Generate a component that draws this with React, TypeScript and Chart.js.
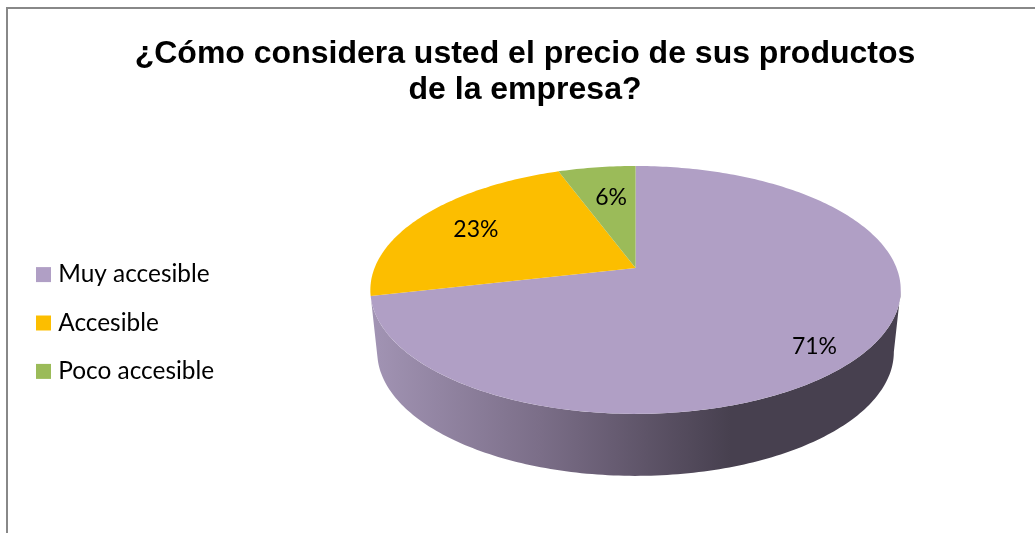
import React, { useEffect, useRef } from "react";
import { Chart, registerables } from "chart.js";

Chart.register(...registerables);

const titleLines = ["¿Cómo considera usted el precio de sus productos", "de la empresa?"];
const categories = ["Muy accesible", "Accesible", "Poco accesible"];
const values = [71.4, 23, 5.6];
const colors = ["#B09FC5", "#FCBE00", "#9BBB59"];

const PERSPECTIVE = 0.177;
const SQUASH = 0.46;
const APEX_SHIFT = -55;
const CENTER_SHIFT = 7;
const LOWER_SHIFT = 62;
const LOWER_SCALE = 0.974;
const FRONT_START = 0.178;
const FRONT_END = 2.93;
const LABEL_RADIUS = 0.7;
const labelNudges = [
  [24, 22],
  [-8, -1],
  [4, 3],
];

type Pt = [number, number];
function project(arc: any, angle: number, f = 1, scale = 1, drop = 0): Pt {
  const u = Math.cos(angle) * f;
  const v = Math.sin(angle) * f;
  const d = 1 - PERSPECTIVE * v;
  const R = arc.outerRadius;
  return [arc.x + CENTER_SHIFT + (R * scale * u) / d, arc.y + APEX_SHIFT + drop + (R * SQUASH * v) / d];
}

function sample(a0: number, a1: number): number[] {
  const n = Math.max(2, Math.ceil((Math.abs(a1 - a0) / Math.PI) * 180));
  const out: number[] = [];
  for (let i = 0; i <= n; i++) out.push(a0 + ((a1 - a0) * i) / n);
  return out;
}

const piePerspective = {
  id: "piePerspective",
  beforeDraw(chart: any) {
    const { ctx, width, height } = chart;
    ctx.save();
    ctx.fillStyle = "#ffffff";
    ctx.fillRect(0, 0, width, height);
    ctx.strokeStyle = "#888888";
    ctx.lineWidth = 2;
    ctx.beginPath();
    ctx.moveTo(7, height);
    ctx.lineTo(7, 8);
    ctx.lineTo(width, 8);
    ctx.stroke();
    ctx.restore();
  },
  beforeDatasetDraw(chart: any, args: any) {
    const { ctx } = chart;
    const arcs = args.meta.data;
    ctx.save();
    arcs.forEach((arc: any) => {
      const s = Math.max(arc.startAngle, FRONT_START);
      const e = Math.min(arc.endAngle, FRONT_END);
      if (e - s < 0.05) return;
      const grad = ctx.createLinearGradient(371, 0, 900, 0);
      grad.addColorStop(0, "#A294B4");
      grad.addColorStop(0.32, "#7B6E88");
      grad.addColorStop(0.52, "#5E5468");
      grad.addColorStop(0.68, "#47404F");
      grad.addColorStop(1, "#47404F");
      ctx.fillStyle = grad;
      ctx.beginPath();
      sample(s, e).forEach((a, i) => {
        const p = project(arc, a);
        if (i === 0) ctx.moveTo(p[0], p[1]);
        else ctx.lineTo(p[0], p[1]);
      });
      sample(e, s).forEach((a) => {
        const p = project(arc, a, 1, LOWER_SCALE, LOWER_SHIFT);
        ctx.lineTo(p[0], p[1]);
      });
      ctx.closePath();
      ctx.fill();
    });
    arcs.forEach((arc: any, idx: number) => {
      ctx.fillStyle = colors[idx];
      ctx.beginPath();
      const apex = project(arc, 0, 0);
      ctx.moveTo(apex[0], apex[1]);
      sample(arc.startAngle, arc.endAngle).forEach((a) => {
        const p = project(arc, a);
        ctx.lineTo(p[0], p[1]);
      });
      ctx.closePath();
      ctx.fill();
    });
    ctx.restore();
    return false;
  },
  afterDatasetsDraw(chart: any) {
    const { ctx } = chart;
    const arcs = chart.getDatasetMeta(0).data;
    const total = values.reduce((a, b) => a + b, 0);
    ctx.save();
    ctx.font = "23px Lato";
    ctx.fillStyle = "#000000";
    ctx.textAlign = "center";
    ctx.textBaseline = "middle";
    arcs.forEach((arc: any, i: number) => {
      const p = project(arc, (arc.startAngle + arc.endAngle) / 2, LABEL_RADIUS);
      const pct = Math.round((values[i] / total) * 100) + "%";
      ctx.fillText(pct, p[0] + labelNudges[i][0], p[1] + labelNudges[i][1]);
    });
    ctx.restore();
  },
};

export default function App() {
  const ref = useRef<HTMLCanvasElement>(null);
  useEffect(() => {
    const chart = new Chart(ref.current as HTMLCanvasElement, {
      type: "pie",
      data: {
        labels: categories,
        datasets: [{ data: values, backgroundColor: colors, borderWidth: 0 }],
      },
      options: {
        animation: false,
        responsive: false,
        radius: 261,
        layout: { padding: { left: 17, right: 2, top: 0, bottom: 0 } },
        plugins: {
          tooltip: { enabled: false },
          title: {
            display: true,
            text: titleLines,
            color: "#000000",
            font: { family: "'Liberation Sans'", size: 32, weight: "bold", lineHeight: 1.125 },
            padding: { top: 36, bottom: 5 },
          },
          legend: {
            position: "left",
            fullSize: false,
            labels: {
              color: "#000000",
              font: { family: "Lato", size: 24.4 },
              boxWidth: 5,
              boxHeight: 5,
              padding: 24,
              generateLabels: (c: any) =>
                (Chart as any).overrides.pie.plugins.legend.labels
                  .generateLabels(c)
                  .map((l: any) => ({ ...l, lineWidth: 10, strokeStyle: l.fillStyle })),
            },
          },
        },
      } as any,
      plugins: [piePerspective as any],
    });
    return () => chart.destroy();
  }, []);
  return (
    <canvas
      ref={ref}
      width={1035}
      height={533}
      style={{ position: "fixed", left: 0, top: 0, display: "block" }}
    />
  );
}
